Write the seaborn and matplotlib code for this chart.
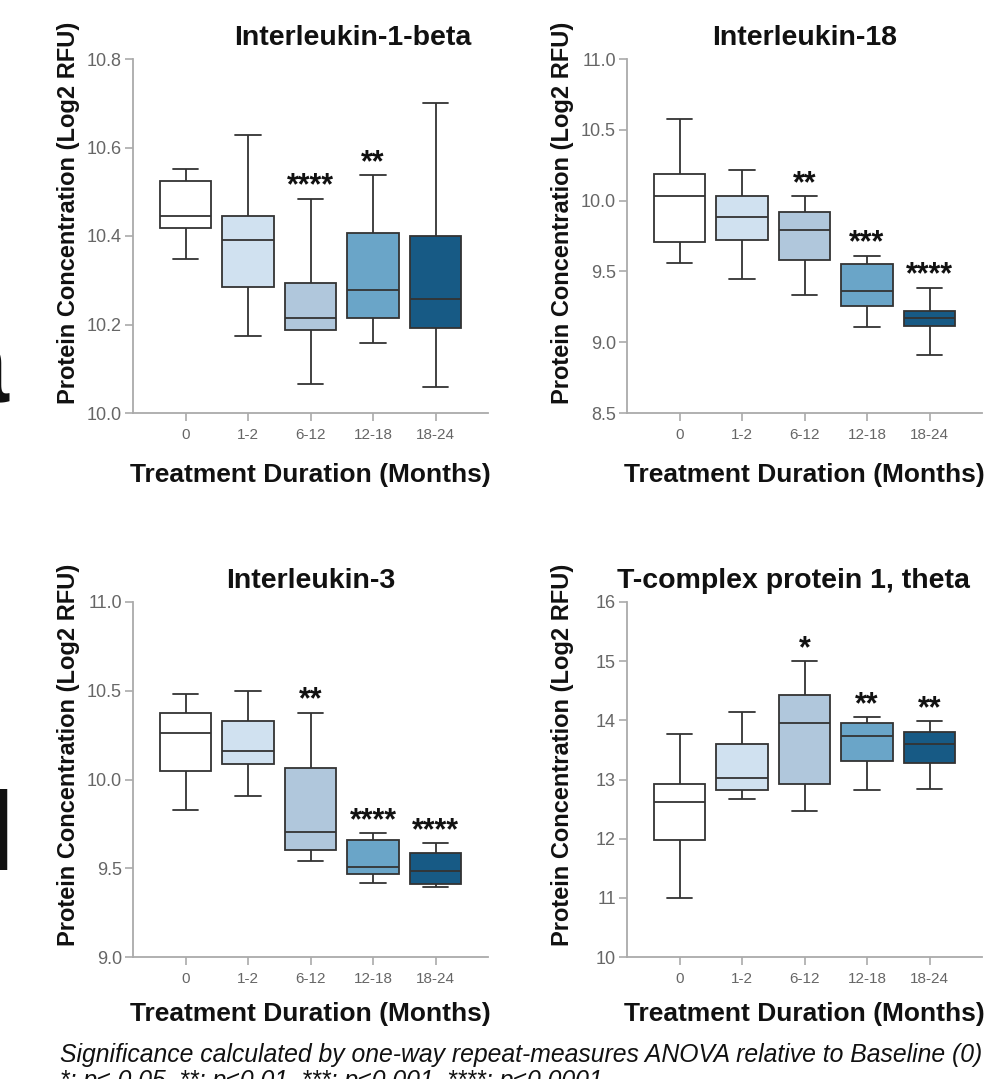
import numpy as np
import pandas as pd
import seaborn as sns
import matplotlib.pyplot as plt

sns.set_theme(style="white")
plt.rcParams['font.family'] = ['Liberation Sans', 'DejaVu Sans']

categories = ["0", "1-2", "6-12", "12-18", "18-24"]
box_colors = ["#ffffff", "#d0e1f0", "#b0c7dc", "#6aa5c8", "#175a85"]

# Interleukin-1-beta
il1b_min = [10.348, 10.174, 10.065, 10.159, 10.059]
il1b_q1 = [10.418, 10.284, 10.188, 10.214, 10.191]
il1b_med = [10.446, 10.390, 10.214, 10.277, 10.258]
il1b_q3 = [10.525, 10.446, 10.294, 10.406, 10.400]
il1b_max = [10.551, 10.629, 10.484, 10.537, 10.700]
il1b_sig = ["", "", "****", "**", ""]

# Interleukin-18
il18_min = [9.561, 9.448, 9.330, 9.104, 8.907]
il18_q1 = [9.711, 9.725, 9.577, 9.257, 9.111]
il18_med = [10.031, 9.881, 9.791, 9.361, 9.168]
il18_q3 = [10.191, 10.029, 9.916, 9.554, 9.222]
il18_max = [10.579, 10.217, 10.033, 9.610, 9.384]
il18_sig = ["", "", "**", "***", "****"]

# Interleukin-3
il3_min = [9.826, 9.905, 9.539, 9.415, 9.392]
il3_q1 = [10.048, 10.089, 9.601, 9.469, 9.409]
il3_med = [10.264, 10.161, 9.704, 9.509, 9.486]
il3_q3 = [10.373, 10.330, 10.063, 9.657, 9.586]
il3_max = [10.482, 10.497, 10.377, 9.699, 9.642]
il3_sig = ["", "", "**", "****", "****"]

# T-complex protein 1, theta
tcp_min = [10.997, 12.670, 12.468, 12.822, 12.834]
tcp_q1 = [11.977, 12.817, 12.924, 13.318, 13.273]
tcp_med = [12.625, 13.025, 13.949, 13.735, 13.606]
tcp_q3 = [12.918, 13.594, 14.420, 13.955, 13.803]
tcp_max = [13.769, 14.141, 15.003, 14.056, 13.983]
tcp_sig = ["", "", "*", "**", "**"]

panels = [
    dict(title="Interleukin-1-beta", mins=il1b_min, q1=il1b_q1, med=il1b_med, q3=il1b_q3, maxs=il1b_max,
         sig=il1b_sig, ylim=(10.0, 10.8), yticks=[10.0, 10.2, 10.4, 10.6, 10.8], fmt="{:.1f}"),
    dict(title="Interleukin-18", mins=il18_min, q1=il18_q1, med=il18_med, q3=il18_q3, maxs=il18_max,
         sig=il18_sig, ylim=(8.5, 11.0), yticks=[8.5, 9.0, 9.5, 10.0, 10.5, 11.0], fmt="{:.1f}"),
    dict(title="Interleukin-3", mins=il3_min, q1=il3_q1, med=il3_med, q3=il3_q3, maxs=il3_max,
         sig=il3_sig, ylim=(9.0, 11.0), yticks=[9.0, 9.5, 10.0, 10.5, 11.0], fmt="{:.1f}"),
    dict(title="T-complex protein 1, theta", mins=tcp_min, q1=tcp_q1, med=tcp_med, q3=tcp_q3, maxs=tcp_max,
         sig=tcp_sig, ylim=(10, 16), yticks=[10, 11, 12, 13, 14, 15, 16], fmt="{:.0f}"),
]

W, H = 1000, 1079
fig = plt.figure(figsize=(W / 100, H / 100), dpi=100)

# axes rectangles in pixels: left, top, right, bottom
rects = [(133, 59, 488, 413), (627, 59, 982, 413), (133, 602, 488, 957), (627, 602, 982, 957)]
title_x = [0.62, 0.5, 0.5, 0.47]
ylabel_y = [0.565, 0.565, 0.57, 0.57]
xlabel_y = [-0.14, -0.14, -0.128, -0.128]

spine_col = "#aaaaaa"
tick_col = "#666666"

for p, (l, t, r, b), tx, yly, xly in zip(panels, rects, title_x, ylabel_y, xlabel_y):
    ax = fig.add_axes([l / W, 1 - b / H, (r - l) / W, (b - t) / H])
    rows = []
    for c, a, q1, m, q3, z in zip(categories, p["mins"], p["q1"], p["med"], p["q3"], p["maxs"]):
        for v in (a, q1, m, q3, z):
            rows.append({"Duration": c, "Value": v})
    df = pd.DataFrame(rows)
    sns.boxplot(data=df, x="Duration", y="Value", hue="Duration", order=categories, hue_order=categories,
                palette=box_colors, saturation=1, width=0.82, whis=(0, 100), showfliers=False,
                linewidth=1.3, linecolor="#333333", legend=False, ax=ax)
    ax.set_xlim(-0.84, 4.84)
    ax.set_ylim(*p["ylim"])
    ax.set_yticks(p["yticks"])
    ax.set_yticklabels([p["fmt"].format(v) for v in p["yticks"]])
    sns.despine(ax=ax)
    for s in ("left", "bottom"):
        ax.spines[s].set_color(spine_col)
        ax.spines[s].set_linewidth(1.3)
    ax.tick_params(axis="both", which="major", direction="out", length=6, width=1.2, color=spine_col,
                   labelcolor=tick_col, left=True, bottom=True)
    ax.tick_params(axis="y", labelsize=13, pad=2)
    ax.tick_params(axis="x", labelsize=11, pad=5)
    ax.set_title(p["title"], fontsize=20.5, fontweight="bold", x=tx, pad=10, color="#111111")
    ax.set_xlabel("Treatment Duration (Months)", fontsize=19, fontweight="bold", color="#111111")
    ax.xaxis.set_label_coords(0.5, xly)
    ax.set_ylabel("Protein Concentration (Log2 RFU)", fontsize=17, fontweight="bold", color="#111111")
    ax.yaxis.set_label_coords(-0.15, yly)
    for i, s in enumerate(p["sig"]):
        if s:
            ax.annotate(s, (i, p["maxs"][i]), xytext=(0, 3), textcoords="offset points",
                        ha="center", va="baseline", fontsize=22, fontweight="bold", color="#111111")

# cut-off panel letters at the left edge
fig.text(9 / W, 1 - 402 / H, "a", fontsize=80, fontweight="bold", ha="right", va="baseline", color="#111111")
fig.text(14 / W, 1 - 870 / H, "d", fontsize=80, fontweight="bold", ha="right", va="baseline", color="#111111")

fig.text(60 / W, 1 - 1062 / H,
         "Significance calculated by one-way repeat-measures ANOVA relative to Baseline (0)",
         fontsize=17.8, style="italic", ha="left", va="baseline", color="#111111")
fig.text(60 / W, 1 - 1088 / H,
         "*: p\u2264 0.05, **: p\u22640.01, ***: p\u22640.001, ****: p\u22640.0001",
         fontsize=17.8, style="italic", ha="left", va="baseline", color="#111111")

fig.savefig("out.png", dpi=100)
